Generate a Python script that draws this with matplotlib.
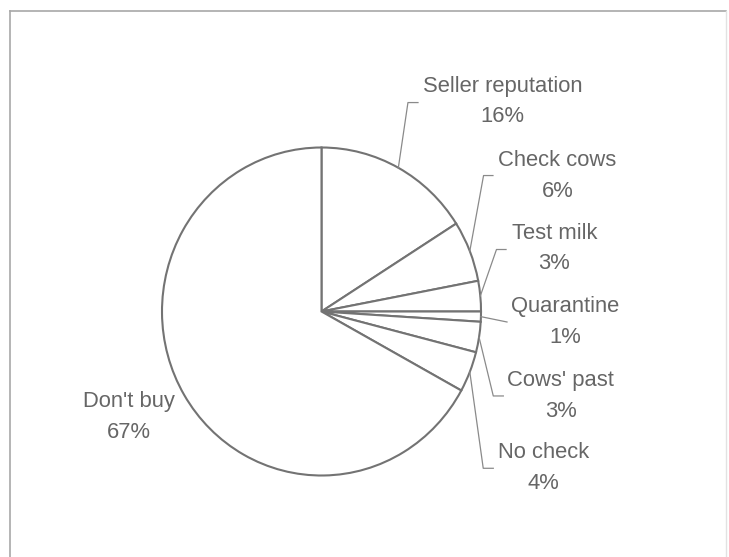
import matplotlib
matplotlib.use("Agg")
import matplotlib.pyplot as plt
from matplotlib.lines import Line2D
import numpy as np

# Pre-purchase checks done by buyers of cattle (share of respondents)
categories = ["Seller reputation", "Check cows", "Test milk", "Quarantine",
              "Cows' past", "No check", "Don't buy"]
shares = [16, 6, 3, 1, 3, 4, 67]

# Label block centres and leader elbows, in pie-radius units
label_pos = [(1.135, 1.28), (1.48, 0.825), (1.46, 0.385), (1.53, -0.065),
             (1.50, -0.515), (1.39, -0.955), (-1.21, -0.645)]
leader_elbow = [((0.542, 1.274), (0.605, 1.274)),
                ((1.016, 0.829), (1.075, 0.829)),
                ((1.097, 0.378), (1.157, 0.378)),
                ((1.163, -0.064), (1.163, -0.064)),
                ((1.077, -0.515), (1.140, -0.515)),
                ((1.014, -0.956), (1.077, -0.956)),
                None]

W, H = 729, 557
cx, cy, rx, ry = 321.5, 311.5, 159.5, 164.0

plt.rcParams['font.family'] = ['Liberation Sans', 'DejaVu Sans']
fig = plt.figure(figsize=(W / 100, H / 100), dpi=100)
ax = fig.add_axes([0, 0, 1, 1])

edge = "#737373"
txt = "#666666"

wedges, _ = ax.pie(shares, startangle=90, counterclock=False, radius=1.0,
                   colors=["white"] * len(shares),
                   wedgeprops=dict(edgecolor=edge, linewidth=1.5))
ax.set_aspect('auto')
ax.set_xlim((0 - cx) / rx, (W - cx) / rx)
ax.set_ylim((cy - H) / ry, cy / ry)
ax.axis('off')

total = sum(shares)
start = 90.0
for name, val, pos, elbow in zip(categories, shares, label_pos, leader_elbow):
    mid = start - val / total * 360 / 2
    start -= val / total * 360
    ax.text(pos[0], pos[1], f"{name}\n{val}%", ha='center', va='center',
            fontsize=15.8, color=txt, linespacing=1.6)
    if elbow is not None:
        x0, y0 = np.cos(np.radians(mid)), np.sin(np.radians(mid))
        xs = [x0, elbow[0][0], elbow[1][0]]
        ys = [y0, elbow[0][1], elbow[1][1]]
        ax.plot(xs, ys, color="#8a8a8a", linewidth=0.9)

# Outer frame (left, top and a faint right side)
def fx(p):
    return p / W

def fy(p):
    return 1 - p / H

fig.add_artist(Line2D([fx(10), fx(10)], [fy(11), fy(H)], color="#a8a8a8", lw=1.2))
fig.add_artist(Line2D([fx(10), fx(726)], [fy(11), fy(11)], color="#a8a8a8", lw=1.2))
fig.add_artist(Line2D([fx(726), fx(726)], [fy(11), fy(H)], color="#e2e2e2", lw=1.0))

fig.savefig("out.png", dpi=100, facecolor="white")
